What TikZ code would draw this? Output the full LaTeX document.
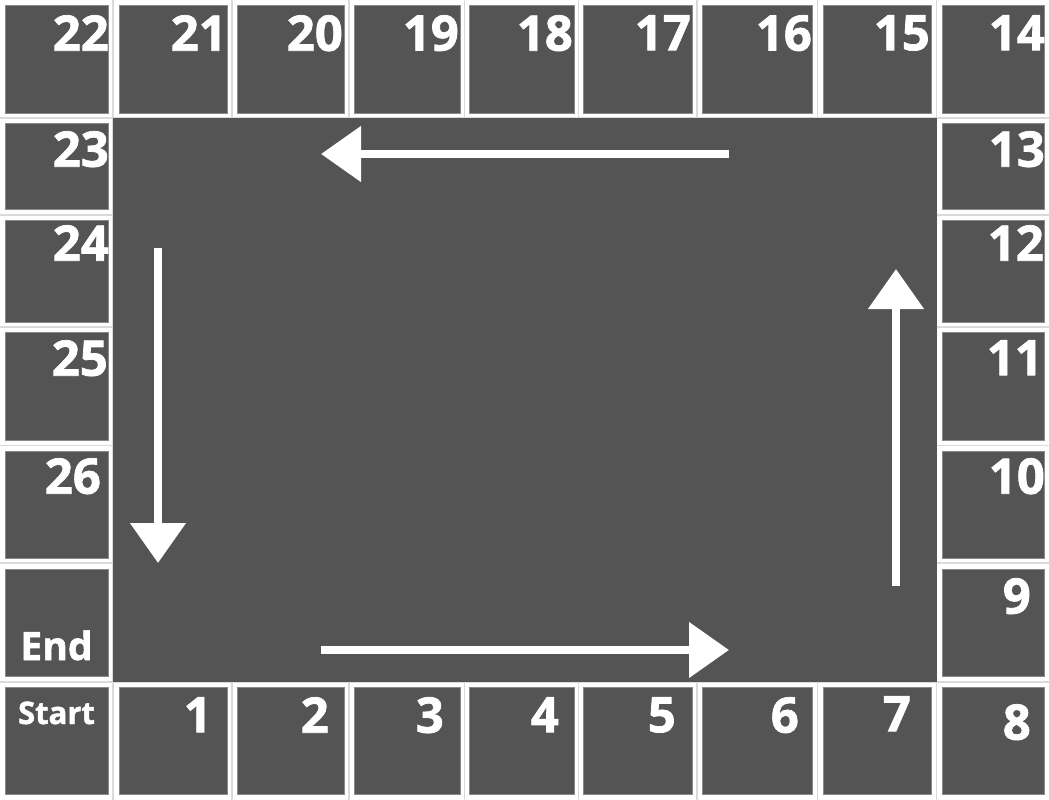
\documentclass[tikz,border=0pt]{standalone}
\usepackage{fontspec}
\setmainfont{Open Sans}[BoldFeatures={FakeBold=1.5}]
\usetikzlibrary{arrows.meta}
\definecolor{cellgray}{HTML}{545454}
\definecolor{gridgray}{HTML}{DADADA}
\definecolor{celledge}{HTML}{8A8A8A}
\begin{document}
\begin{tikzpicture}[x=1pt,y=-1pt,
  cellbox/.style={draw=celledge, line width=0.7pt, fill=cellgray, inner sep=0pt, outer sep=0pt, anchor=north west},
  numlabel/.style={text=white, font=\fontsize{49}{49}\selectfont\bfseries, inner sep=0pt, anchor=north east},
  wordlabel/.style={text=white, inner sep=0pt, anchor=base},
  gridline/.style={draw=gridgray, line width=1.5pt},
  flowarrow/.style={draw=white, line width=8pt, -{Triangle[length=40pt,width=54pt]}}]
\useasboundingbox[fill=white] (0,0) rectangle (1050,800);
% table grid
\foreach \x in {113,232,349,464.5,578.5,697,817.5,936.5,1049.5}
  \draw[gridline] (\x,0) -- (\x,800);
\foreach \y in {118,215,327,445.5,563,682}
  \draw[gridline] (0,\y) -- (1050,\y);
% cells: name / x / width / y / height
\foreach \nm/\cx/\cw/\cy/\ch in {
  22/5/103/5/108, 21/119/108/5/108, 20/237/107/5/108, 19/354/106/5/108,
  18/469/105/5/108, 17/583/109/5/108, 16/702/110/5/108, 15/823/108/5/108,
  14/942/102/5/108,
  23/5/103/123/86, 24/5/103/220/102, 25/5/103/332/108, 26/5/103/451/107,
  End/5/103/569/107, Start/5/103/687/107,
  13/942/102/123/86, 12/942/102/220/102, 11/942/102/332/108, 10/942/102/451/107,
  9/942/102/569/107,
  1/119/108/687/107, 2/237/107/687/107, 3/354/106/687/107, 4/469/105/687/107,
  5/583/109/687/107, 6/702/110/687/107, 7/823/108/687/107, 8/942/102/687/107}
  \node[cellbox, minimum width=\cw pt, minimum height=\ch pt] (c\nm) at (\cx,\cy) {};
% centre board
\node[fill=cellgray, inner sep=0pt, outer sep=0pt, anchor=north west,
      minimum width=824pt, minimum height=564pt] (board) at (113,118) {};
% number labels: name / right / top
\foreach \nm/\rx/\ty in {
  22/109/15, 21/227/15, 20/343/15, 19/459/15, 18/573/15, 17/691/15,
  16/812/15, 15/930/15, 14/1045/15,
  23/109/131, 24/109/225, 25/108/340, 26/101/458,
  13/1045/131, 12/1044/225, 11/1043/340, 10/1045/458, 9/1031/578,
  1/212/697, 2/329/697, 3/444/697, 4/559/697, 5/676/697, 6/799/697,
  7/911/696, 8/1031/704}
  \node[numlabel] (n\nm) at (\rx,\ty) {\nm};
\node[wordlabel, font=\fontsize{31}{31}\selectfont\bfseries] (nStart) at (56.5,724) {Start};
\node[wordlabel, font=\fontsize{39}{39}\selectfont\bfseries] (nEnd) at (56.5,660) {End};
% direction arrows
\coordinate (topS) at (729,154);
\coordinate (topE) at (321,154);
\coordinate (leftS) at (158,248);
\coordinate (leftE) at (158,563);
\coordinate (botS) at (321,650);
\coordinate (botE) at (729,650);
\coordinate (rightS) at (896,586);
\coordinate (rightE) at (896,269);
\draw[flowarrow] (topS) -- (topE);
\draw[flowarrow] (leftS) -- (leftE);
\draw[flowarrow] (botS) -- (botE);
\draw[flowarrow] (rightS) -- (rightE);
\end{tikzpicture}
\end{document}
